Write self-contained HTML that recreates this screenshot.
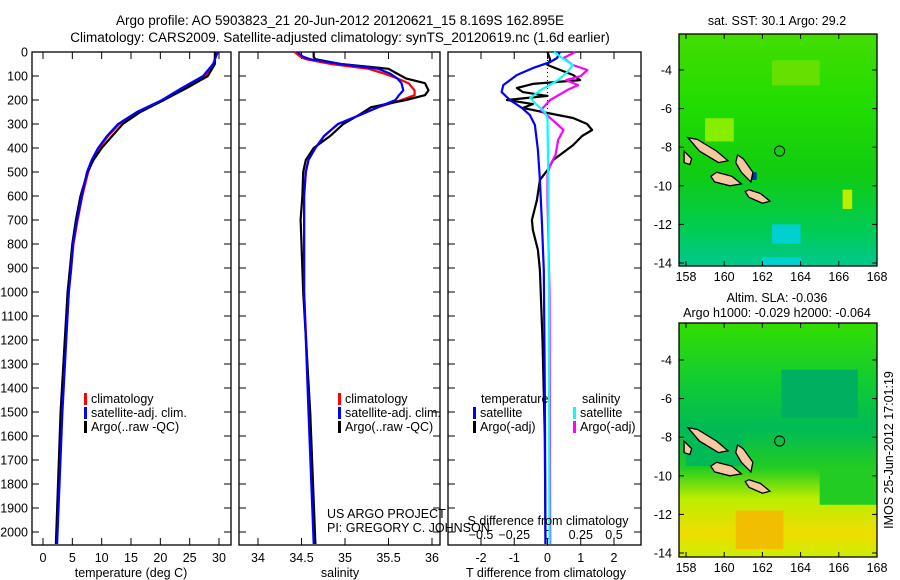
<!DOCTYPE html>
<html><head><meta charset="utf-8">
<style>
html,body{margin:0;padding:0;background:#fff;}
svg{display:block;font-family:"Liberation Sans",sans-serif;}
text{fill:#000;}
</style></head>
<body>
<svg id="fig" width="900" height="580" viewBox="0 0 900 580">
  <text x="340" y="25" font-size="13.5" text-anchor="middle">Argo profile: AO 5903823_21 20-Jun-2012 20120621_15 8.169S 162.895E</text>
  <text x="340" y="42" font-size="13.5" text-anchor="middle">Climatology: CARS2009. Satellite-adjusted climatology: synTS_20120619.nc (1.6d earlier)</text>
  <g id="p1"></g>
  <g id="p2"></g>
  <g id="p3"></g>
  <g id="m1"></g>
  <g id="m2"></g>
  <text x="327" y="518" font-size="12.5">US ARGO PROJECT</text>
  <text x="327" y="532" font-size="12.5">PI: GREGORY C. JOHNSON</text>
  <text x="548" y="525" font-size="12.5" text-anchor="middle">S difference from climatology</text>
  <text transform="translate(893,450) rotate(-90)" font-size="12.5" text-anchor="middle">IMOS 25-Jun-2012 17:01:19</text>
</svg>
<script>
// ---------- data ----------
const depthTicks=[0,100,200,300,400,500,600,700,800,900,1000,1100,1200,1300,1400,1500,1600,1700,1800,1900,2000];
const tTicks=[0,5,10,15,20,25,30];
const sTicks=[34,34.5,35,35.5,36];
const tdTicks=[-2,-1,0,1,2];
const sdTicks=[-0.5,-0.25,0,0.25,0.5];
const lonTicks=[158,160,162,164,166,168];
const latTicks=[-4,-6,-8,-10,-12,-14];

const tDepth=[0,50,100,150,200,250,300,350,400,450,500,600,700,800,900,1000,1500,2050];
const tClim=[29.4,29.2,27.8,24.0,20.6,16.4,13.0,11.1,9.6,8.5,7.7,6.7,5.9,5.2,4.8,4.4,3.2,2.3];
const tSat=[29.8,29.0,27.3,23.7,20.3,16.0,12.8,10.9,9.4,8.3,7.5,6.6,5.8,5.1,4.8,4.4,3.3,2.4];
const tArgo=[29.3,29.3,28.1,24.5,20.6,16.6,13.6,11.8,10.0,8.6,7.6,6.4,5.6,5.0,4.6,4.2,3.0,2.2];

const sDepth=[0,20,30,50,70,90,110,130,160,180,200,230,260,300,350,400,450,500,600,700,800,1000,1500,2050];
const sClim=[34.42,34.49,34.55,34.84,35.27,35.45,35.60,35.73,35.80,35.80,35.65,35.38,35.19,34.92,34.76,34.66,34.58,34.55,34.53,34.53,34.53,34.53,34.59,34.65];
const sSat=[34.45,34.52,34.60,34.95,35.38,35.52,35.60,35.65,35.67,35.62,35.58,35.38,35.19,34.92,34.76,34.66,34.58,34.55,34.53,34.53,34.53,34.53,34.58,34.64];
const sArgo=[34.64,34.64,34.66,34.95,35.50,35.60,35.70,35.92,35.96,35.92,35.70,35.30,35.17,34.98,34.83,34.64,34.55,34.52,34.51,34.49,34.50,34.52,34.60,34.66];

const dtArgoDepth=[0,33,54,96,117,133,150,167,183,200,217,233,254,275,300,325,350,388,450,492,533,617,700,742,825,908,1200,1600,2050];
const dtArgo=[0,0.08,0,0.77,0.98,-0.44,-0.92,-0.74,0,-1.22,-0.44,-0.74,0,0.77,1.19,1.34,1.04,0.77,0.17,0,-0.23,-0.32,-0.47,-0.44,-0.29,-0.23,-0.15,-0.08,-0.06];
const dtSatDepth=[0,25,42,67,96,138,167,200,233,263,304,408,533,700,908,1400,2050];
const dtSat=[0.37,0.29,0.08,-0.44,-0.92,-1.33,-1.38,-1.13,-0.77,-0.53,-0.38,-0.29,-0.23,-0.17,-0.11,-0.08,-0.06];
const dsSatDepth=[0,25,54,83,117,158,192,221,250,275,500,1000,2050];
const dsSat=[0.05,0.11,0.19,0.15,0.08,-0.05,-0.13,-0.08,-0.02,0,0.005,0.01,0.015];
const dsArgoDepth=[0,25,54,75,100,117,138,158,200,242,275,304,325,367,429,471,513,617,1000,2050];
const dsArgo=[0.21,0.12,0.19,0.30,0.25,0.14,0.23,0.15,0.02,-0.05,0.02,0.08,0.12,0.08,0.06,0.02,0,0,0.015,0.02];

// ---------- helpers ----------
const NS='http://www.w3.org/2000/svg';
function mk(tag,attrs,parent){const e=document.createElementNS(NS,tag);for(const k in attrs)e.setAttribute(k,attrs[k]);parent.appendChild(e);return e;}
const yD=d=>52+0.24*d;
const xT=t=>43+5.867*t;
const xS=s=>258+87*(s-34);
const xTD=v=>547.5+33.25*v;
const xSD=v=>547.5+133*v;
const TOP=52,BOT=545;

function frame(g,x0,x1,name){
  const r=mk('rect',{x:x0,y:TOP,width:x1-x0,height:BOT-TOP,fill:'none',stroke:'#000','stroke-width':1.3},g);
  
  
}
function line(g,xs,ys,fx,color,name,w){
  const pts=xs.map((v,i)=>fx(v).toFixed(1)+','+yD(ys[i]).toFixed(1)).join(' ');
  const p=mk('polyline',{points:pts,fill:'none',stroke:color,'stroke-width':w||2.2,'stroke-linejoin':'round'},g);
  
  
}
function xticks(g,vals,fx,labelY,top,bottom,fmt,name){
  vals.forEach(v=>{
    const x=fx(v);
    if(bottom) mk('line',{x1:x,x2:x,y1:BOT,y2:BOT-7,stroke:'#000','stroke-width':1},g);
    if(top) mk('line',{x1:x,x2:x,y1:TOP,y2:TOP+7,stroke:'#000','stroke-width':1},g);
    if(labelY){const t=mk('text',{x:x,y:labelY,'font-size':12.5,'text-anchor':'middle'},g);t.textContent=fmt?fmt(v):v;
      
      }
  });
}
function yticks(g,x0,x1,labels){
  depthTicks.forEach(d=>{
    const y=yD(d);
    mk('line',{x1:x0,x2:x0+7,y1:y,y2:y,stroke:'#000','stroke-width':1},g);
    mk('line',{x1:x1,x2:x1-7,y1:y,y2:y,stroke:'#000','stroke-width':1},g);
    if(labels){const t=mk('text',{x:28,y:y+4.5,'font-size':12.5,'text-anchor':'end'},g);t.textContent=d;
      
      }
  });
}
function legend(g,x,y,items,name){
  items.forEach((it,i)=>{
    mk('rect',{x:x,y:y+i*14-10,width:3,height:12,fill:it[1]},g);
    const t=mk('text',{x:x+7,y:y+i*14,'font-size':12.5},g);t.textContent=it[0];
    
    
  });
}
function title(g,x,y,txt,name){const t=mk('text',{x:x,y:y,'font-size':12.5,'text-anchor':'middle'},g);t.textContent=txt;
  
  }

// ---------- panel 1 ----------
const p1=document.getElementById('p1');
frame(p1,32,231,'temperature');
yticks(p1,32,231,true);
xticks(p1,tTicks,xT,562,true,true,null,'temperature');
line(p1,tClim,tDepth,xT,'#ff0000','temp-climatology-line');
line(p1,tArgo,tDepth,xT,'#000000','temp-argo-line');
line(p1,tSat,tDepth,xT,'#0000ff','temp-satellite-line');
legend(p1,84,403,[['climatology','#ff0000'],['satellite-adj. clim.','#0000ff'],['Argo(..raw -QC)','#000000']],'temp-legend');
title(p1,131,577,'temperature (deg C)','temperature-axis-title');

// ---------- panel 2 ----------
const p2=document.getElementById('p2');
frame(p2,239,440,'salinity');
yticks(p2,239,440,false);
xticks(p2,sTicks,xS,562,true,true,null,'salinity');
line(p2,sClim,sDepth,xS,'#ff0000','sal-climatology-line');
line(p2,sArgo,sDepth,xS,'#000000','sal-argo-line');
line(p2,sSat,sDepth,xS,'#0000ff','sal-satellite-line');
legend(p2,338,403,[['climatology','#ff0000'],['satellite-adj. clim.','#0000ff'],['Argo(..raw -QC)','#000000']],'sal-legend');
title(p2,340,577,'salinity','salinity-axis-title');

// ---------- panel 3 ----------
const p3=document.getElementById('p3');
frame(p3,448,641,'difference');
yticks(p3,448,641,false);
xticks(p3,tdTicks,xTD,562,false,true,null,'t-diff');
xticks(p3,sdTicks,xSD,539,true,false,v=>v===0?'0':String(v).replace('-','\u2212'),'s-diff');
const zl=mk('line',{x1:547.5,x2:547.5,y1:TOP,y2:yD(700),stroke:'#000','stroke-width':1,'stroke-dasharray':'1,3'},p3);


line(p3,dtArgo,dtArgoDepth,xTD,'#000000','t-diff-argo-line');
line(p3,dsArgo,dsArgoDepth,xSD,'#ff00ff','s-diff-argo-line');
line(p3,dtSat,dtSatDepth,xTD,'#0000ff','t-diff-satellite-line');
line(p3,dsSat,dsSatDepth,xSD,'#00ffff','s-diff-satellite-line');
{const t=mk('text',{x:481,y:403,'font-size':12.5},p3);t.textContent='temperature';
 }
{const t=mk('text',{x:582,y:403,'font-size':12.5},p3);t.textContent='salinity';
 }
legend(p3,473,417,[['satellite','#0000ff'],['Argo(-adj)','#000000']],'t-diff-legend');
legend(p3,573,417,[['satellite','#00ffff'],['Argo(-adj)','#ff00ff']],'s-diff-legend');
title(p3,546,577,'T difference from climatology','t-diff-axis-title');

// ---------- maps ----------
const mx=lon=>686+19.1*(lon-158);
function drawMap(id,y0,y1,latY0,titles,grad,blobs,name){
  const g=document.getElementById(id);
  const my=lat=>latY0+19.3*(-4-lat);
  const defs=mk('defs',{},g);
  const lg=mk('linearGradient',{id:id+'g',x1:0,y1:0,x2:0,y2:1},defs);
  grad.forEach(s=>mk('stop',{offset:s[0],'stop-color':s[1]},lg));
  const bg=mk('rect',{x:679,y:y0,width:198,height:y1-y0,fill:'url(#'+id+'g)'},g);
  
  
  blobs.forEach(b=>mk('rect',{x:mx(b[0]),y:my(b[1]),width:b[2]*19.1,height:b[3]*19.3,fill:b[4]},g));
  // islands
  const isl=[[[158.1,-7.5],[158.6,-7.6],[159.6,-8.2],[160.2,-8.7],[159.7,-8.8],[158.7,-8.2]],
             [[160.7,-8.4],[161.0,-8.6],[161.5,-9.3],[161.4,-9.8],[160.9,-9.3],[160.6,-8.8]],
             [[159.6,-9.3],[160.4,-9.5],[160.9,-9.9],[160.3,-10.0],[159.5,-9.8],[159.3,-9.5]],
             [[161.3,-10.2],[161.9,-10.4],[162.4,-10.8],[162.0,-10.9],[161.3,-10.6],[161.1,-10.3]],
             [[157.9,-8.2],[158.3,-8.6],[158.2,-8.9],[157.9,-8.8]]];
  isl.forEach(poly=>{
    const p=mk('polygon',{points:poly.map(q=>mx(q[0]).toFixed(1)+','+my(q[1]).toFixed(1)).join(' '),fill:'#f8c8a0',stroke:'#000','stroke-width':1.3},g);
    
    
  });
  const c=mk('circle',{cx:mx(162.9),cy:my(-8.2),r:5,fill:'none',stroke:'#000','stroke-width':1},g);
  
  
  const fr=mk('rect',{x:679,y:y0,width:198,height:y1-y0,fill:'none',stroke:'#000','stroke-width':1.3},g);
  
  
  lonTicks.forEach(l=>{const x=mx(l);
    mk('line',{x1:x,x2:x,y1:y1,y2:y1-5,stroke:'#000'},g);mk('line',{x1:x,x2:x,y1:y0,y2:y0+5,stroke:'#000'},g);
    const t=mk('text',{x:x,y:y1+15,'font-size':12.5,'text-anchor':'middle'},g);t.textContent=l;
    });
  latTicks.forEach(l=>{const y=my(l);
    mk('line',{x1:679,x2:684,y1:y,y2:y,stroke:'#000'},g);mk('line',{x1:877,x2:872,y1:y,y2:y,stroke:'#000'},g);
    const t=mk('text',{x:672,y:y+4.5,'font-size':12.5,'text-anchor':'end'},g);t.textContent=String(l).replace('-','-');
    });
  titles.forEach(tt=>title(g,777,tt[1],tt[0],name+'-title'));
}
drawMap('m1',34,266,70,[['sat. SST: 30.1 Argo: 29.2',25]],
  [[0,'#44dd00'],[0.3,'#22dd00'],[0.6,'#11cc11'],[0.85,'#00cc55'],[1,'#00c890']],
  [[162.5,-3.5,2.5,1.3,'#66e000'],[159,-6.5,1.5,1.2,'#88ee00'],[162.5,-12,1.5,1,'#00d0d0'],[162,-13.7,2,0.4,'#00d0d0'],[166.2,-10.2,0.5,1,'#bbee00'],[161.3,-9.3,0.4,0.4,'#0033aa']],'sst-map');
drawMap('m2',323,557,360,[['Altim. SLA: -0.036',302],['Argo h1000: -0.029 h2000: -0.064',317]],
  [[0,'#33dd00'],[0.25,'#11cc33'],[0.45,'#00bb55'],[0.62,'#22cc22'],[0.75,'#bbee00'],[0.9,'#eedd00'],[1,'#ccee00']],
  [[163,-4.5,4,2.5,'#00b060'],[160.6,-11.8,2.5,2,'#f0c000'],[158,-7.5,3,2,'#00bb55'],[165,-9.5,3,2,'#22cc22']],'sla-map');
</script>
</body></html>
